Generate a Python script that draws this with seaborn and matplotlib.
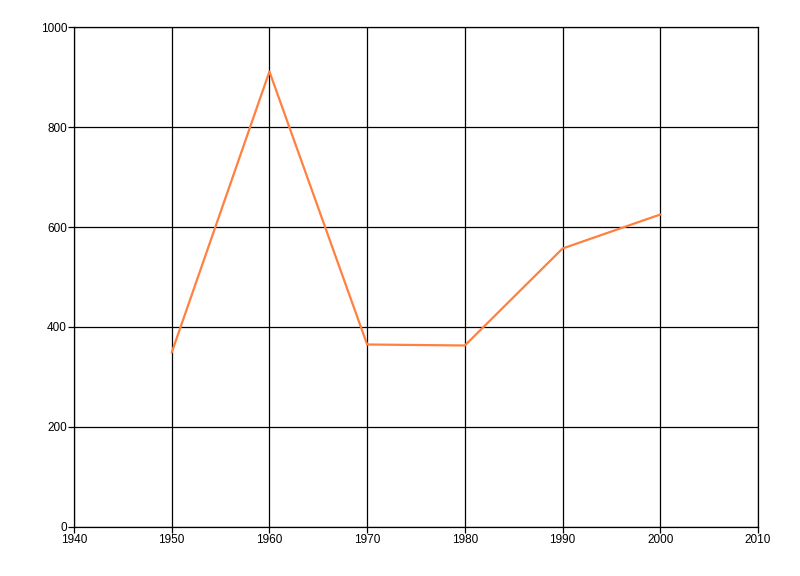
import matplotlib
matplotlib.use("Agg")
import matplotlib.pyplot as plt
import seaborn as sns
import pandas as pd

# values
years = [1950, 1960, 1970, 1980, 1990, 2000]
values = [349, 911, 365, 363, 557, 625]
x_ticks = [1940, 1950, 1960, 1970, 1980, 1990, 2000, 2010]
y_ticks = [0, 200, 400, 600, 800, 1000]

df = pd.DataFrame({"year": years, "value": values})

sns.set_style("white")
plt.rcParams["font.family"] = ["Liberation Sans", "DejaVu Sans"]

fig = plt.figure(figsize=(8, 5.76), dpi=100)
ax = fig.add_axes([0.0925, 0.0851, 0.855, 0.868])

sns.lineplot(data=df, x="year", y="value", color="#FF8040", linewidth=1.6, ax=ax)

ax.set_xlim(1940, 2010)
ax.set_ylim(0, 1000)
ax.set_xticks(x_ticks)
ax.set_yticks(y_ticks)
ax.grid(True, color="black", linewidth=0.9)
ax.set_axisbelow(True)
ax.set_xlabel("")
ax.set_ylabel("")
ax.tick_params(axis="both", labelsize=8.5, length=4, width=0.9, color="black",
               labelcolor="black", direction="out", bottom=True, left=True, pad=1)
for s in ax.spines.values():
    s.set_color("black")
    s.set_linewidth(0.9)

fig.savefig("out.png", dpi=100)
